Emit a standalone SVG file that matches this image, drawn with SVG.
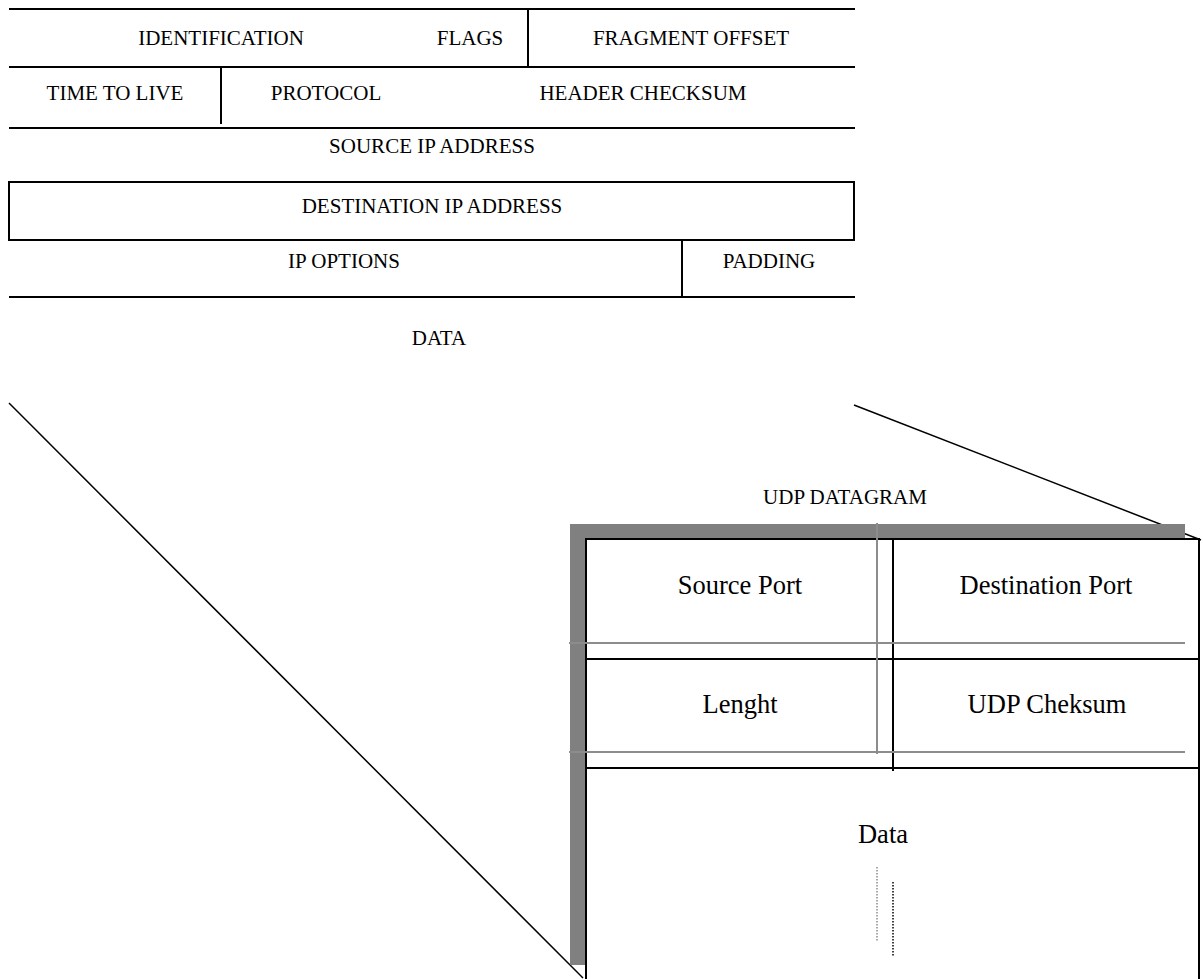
<svg xmlns="http://www.w3.org/2000/svg" width="1203" height="979" viewBox="0 0 1203 979">
<style>
text{font-family:"Liberation Serif","Times New Roman",serif;fill:#000;text-anchor:middle}
.s{font-size:21px}
.b{font-size:26.5px}
.k{stroke:#000;stroke-width:2;fill:none}
.g{stroke:#8c8c8c;stroke-width:2;fill:none}
.d{stroke:#000;stroke-width:1.5;fill:none}
</style>
<rect width="1203" height="979" fill="#fff"/>
<g id="connectors">
<line class="d" x1="9" y1="403" x2="583" y2="978"/>
<line class="d" x1="854" y1="405" x2="1201" y2="540"/>
</g>
<g id="ip-header">
<line class="k" x1="9" y1="9" x2="855" y2="9"/>
<line class="k" x1="528" y1="9" x2="528" y2="67"/>
<line class="k" x1="9" y1="67" x2="855" y2="67"/>
<line class="k" x1="221" y1="67" x2="221" y2="124"/>
<line class="k" x1="9" y1="128" x2="855" y2="128"/>
<rect class="k" x="9" y="182" width="845" height="58"/>
<line class="k" x1="682" y1="240" x2="682" y2="297"/>
<line class="k" x1="9" y1="297" x2="855" y2="297"/>
</g>
<g id="ip-labels">
<text class="s" x="221" y="45">IDENTIFICATION</text>
<text class="s" x="470" y="45">FLAGS</text>
<text class="s" x="691" y="45">FRAGMENT OFFSET</text>
<text class="s" x="115" y="100">TIME TO LIVE</text>
<text class="s" x="326" y="100">PROTOCOL</text>
<text class="s" x="643" y="100">HEADER CHECKSUM</text>
<text class="s" x="432" y="153">SOURCE IP ADDRESS</text>
<text class="s" x="432" y="213">DESTINATION IP ADDRESS</text>
<text class="s" x="344" y="268">IP OPTIONS</text>
<text class="s" x="769" y="268">PADDING</text>
<text class="s" x="439" y="345">DATA</text>
</g>
<g id="udp-datagram">
<text class="s" x="845" y="504">UDP DATAGRAM</text>
<rect x="570" y="524" width="615" height="441" fill="#808080"/>
<rect x="586" y="539" width="613" height="445" fill="#fff"/>
<line class="k" x1="586" y1="539" x2="586" y2="979"/>
<line class="k" x1="1199" y1="539" x2="1199" y2="979"/>
<line class="k" x1="585" y1="539" x2="1200" y2="539"/>
<line class="k" x1="586" y1="659" x2="1199" y2="659"/>
<line class="k" x1="586" y1="768" x2="1199" y2="768"/>
<line class="k" x1="893" y1="539" x2="893" y2="771"/>
<line class="g" x1="877" y1="523" x2="877" y2="754"/>
<line class="g" x1="569" y1="643" x2="1185" y2="643"/>
<line class="g" x1="569" y1="752" x2="1185" y2="752"/>
<line stroke="#8c8c8c" stroke-width="1.5" stroke-dasharray="1.5 1.5" x1="877" y1="867" x2="877" y2="942"/>
<line stroke="#000" stroke-width="1.5" stroke-dasharray="1.5 1.5" x1="893" y1="882" x2="893" y2="957"/>
<text class="b" x="740" y="594">Source Port</text>
<text class="b" x="1046" y="594">Destination Port</text>
<text class="b" x="740" y="713">Lenght</text>
<text class="b" x="1047" y="713">UDP Cheksum</text>
<text class="b" x="883" y="843">Data</text>
</g>
</svg>
